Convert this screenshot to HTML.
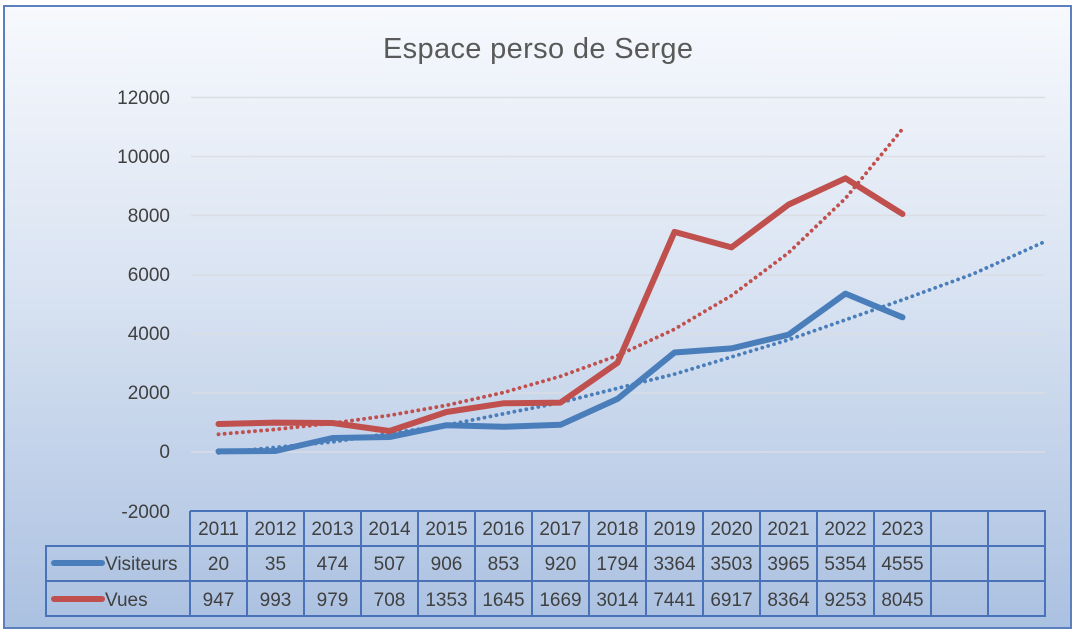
<!DOCTYPE html>
<html><head><meta charset="utf-8"><style>
html,body{margin:0;padding:0;background:#fff}
svg{display:block}
text{font-family:"Liberation Sans",sans-serif;fill:#404040}
</style></head><body>
<svg width="1078" height="635" viewBox="0 0 1078 635" xmlns="http://www.w3.org/2000/svg">
<defs><linearGradient id="bg" x1="0" y1="0" x2="0" y2="1">
<stop offset="0" stop-color="#f7f9fd"/><stop offset="0.45" stop-color="#d9e3f2"/><stop offset="1" stop-color="#abc1e1"/></linearGradient></defs>
<rect x="4" y="6" width="1067" height="622" fill="url(#bg)" stroke="#5b80bd" stroke-width="2"/>
<text x="538" y="58" font-size="29" text-anchor="middle" textLength="310" style="fill:#595959">Espace perso de Serge</text>
<g stroke="#dadde3" stroke-width="1.5">
<line x1="191" y1="97.5" x2="1045" y2="97.5"/><line x1="191" y1="156.5" x2="1045" y2="156.5"/>
<line x1="191" y1="215.5" x2="1045" y2="215.5"/><line x1="191" y1="275" x2="1045" y2="275"/>
<line x1="191" y1="334" x2="1045" y2="334"/><line x1="191" y1="393" x2="1045" y2="393"/>
<line x1="191" y1="452" x2="1045" y2="452"/>
</g>
<g font-size="19" text-anchor="end">
<text x="170" y="104">12000</text><text x="170" y="163">10000</text><text x="170" y="222">8000</text>
<text x="170" y="281">6000</text><text x="170" y="340">4000</text><text x="170" y="399">2000</text>
<text x="170" y="458">0</text><text x="170" y="518">-2000</text>
</g>
<polyline fill="none" stroke="#c0504d" stroke-width="3.8" stroke-dasharray="0.1 6" stroke-linecap="round" points="218.5,434.3 275.5,429.4 332.5,423.2 389.5,415.4 446.5,405.3 503.5,392.5 560.5,376.3 617.5,355.6 674.5,329.2 731.5,295.6 788.5,252.8 845.5,198.3 902.5,128.9"/>
<polyline fill="none" stroke="#4a7ebb" stroke-width="3.8" stroke-dasharray="0.1 6" stroke-linecap="round" points="218.5,452.9 332.5,441.9 446.5,425.1 560.5,402.5 674.5,374.1 788.5,339.8 902.5,299.8 973,274 1042.7,242.6"/>
<polyline fill="none" stroke="#4a7ebb" stroke-width="6" stroke-linejoin="round" stroke-linecap="round" points="218.5,451.4 275.5,451 332.5,438 389.5,437 446.5,425.2 503.5,426.8 560.5,424.8 617.5,398.9 674.5,352.5 731.5,348.4 788.5,334.7 845.5,293.6 902.5,317.3"/>
<polyline fill="none" stroke="#c0504d" stroke-width="6" stroke-linejoin="round" stroke-linecap="round" points="218.5,424 275.5,422.6 332.5,423 389.5,431 446.5,412 503.5,403.3 560.5,402.6 617.5,362.8 674.5,231.9 731.5,247.4 788.5,204.6 845.5,178.3 902.5,214"/>
<g stroke="#4a72b8" stroke-width="2" fill="none">
<path d="M190,511 H1045 V616 H46 V546 H1045 M46,581 H1045"/>
<path d="M190,511 V616 M247,511 V616 M304,511 V616 M361,511 V616 M418,511 V616 M475,511 V616 M532,511 V616 M589,511 V616 M646,511 V616 M703,511 V616 M760,511 V616 M817,511 V616 M874,511 V616 M931,511 V616 M988,511 V616"/>
</g>
<line x1="54" y1="563" x2="102" y2="563" stroke="#4a7ebb" stroke-width="6" stroke-linecap="round"/>
<line x1="54" y1="599" x2="102" y2="599" stroke="#c0504d" stroke-width="6" stroke-linecap="round"/>
<g font-size="19">
<text x="105" y="570">Visiteurs</text><text x="105" y="606">Vues</text>
</g>
<g font-size="19" text-anchor="middle">
<text x="218.5" y="535">2011</text><text x="275.5" y="535">2012</text><text x="332.5" y="535">2013</text><text x="389.5" y="535">2014</text><text x="446.5" y="535">2015</text><text x="503.5" y="535">2016</text><text x="560.5" y="535">2017</text><text x="617.5" y="535">2018</text><text x="674.5" y="535">2019</text><text x="731.5" y="535">2020</text><text x="788.5" y="535">2021</text><text x="845.5" y="535">2022</text><text x="902.5" y="535">2023</text>
<text x="218.5" y="570">20</text><text x="275.5" y="570">35</text><text x="332.5" y="570">474</text><text x="389.5" y="570">507</text><text x="446.5" y="570">906</text><text x="503.5" y="570">853</text><text x="560.5" y="570">920</text><text x="617.5" y="570">1794</text><text x="674.5" y="570">3364</text><text x="731.5" y="570">3503</text><text x="788.5" y="570">3965</text><text x="845.5" y="570">5354</text><text x="902.5" y="570">4555</text>
<text x="218.5" y="606">947</text><text x="275.5" y="606">993</text><text x="332.5" y="606">979</text><text x="389.5" y="606">708</text><text x="446.5" y="606">1353</text><text x="503.5" y="606">1645</text><text x="560.5" y="606">1669</text><text x="617.5" y="606">3014</text><text x="674.5" y="606">7441</text><text x="731.5" y="606">6917</text><text x="788.5" y="606">8364</text><text x="845.5" y="606">9253</text><text x="902.5" y="606">8045</text>
</g>
</svg>
</body></html>
